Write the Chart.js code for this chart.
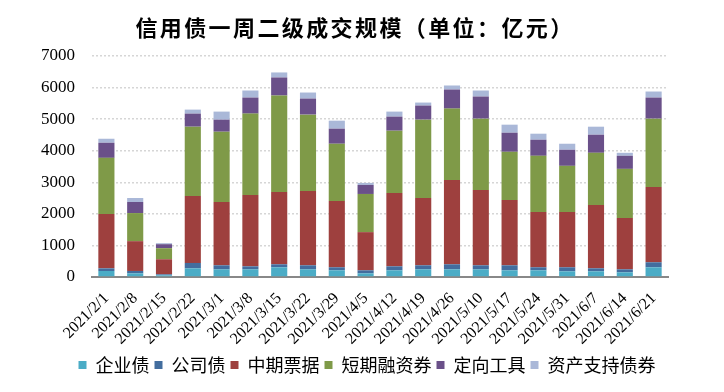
<!DOCTYPE html>
<html>
<head>
<meta charset="utf-8">
<script src="https://cdn.jsdelivr.net/npm/chart.js@4.4.1/dist/chart.umd.min.js"></script>
<style>
  html, body { margin:0; padding:0; background:#fff; }
  #wrap { position:relative; width:724px; height:392px; }
  #title {
    position:absolute; left:-7px; top:12px; width:724px; text-align:center;
    font-family:"Noto Sans CJK SC", sans-serif; font-weight:bold; font-size:22px;
    letter-spacing:2.4px; color:#000; line-height:28px;
  }
</style>
</head>
<body>
<div id="wrap">
  <div id="title">信用债一周二级成交规模（单位：亿元）</div>
  <canvas id="c" width="724" height="392"></canvas>
</div>
<script>
Chart.defaults.font.family = '"Liberation Serif", "Times New Roman", serif';
Chart.defaults.color = '#000';

// weekly values
const weeks = ['2021/2/1','2021/2/8','2021/2/15','2021/2/22','2021/3/1','2021/3/8','2021/3/15','2021/3/22','2021/3/29','2021/4/5',
  '2021/4/12','2021/4/19','2021/4/26','2021/5/10','2021/5/17','2021/5/24','2021/5/31','2021/6/7','2021/6/14','2021/6/21'];

const qiyezhai   = [190,117,53,276,244,244,308,244,212,117,212,244,244,244,212,212,180,180,148,308];
const gongsizhai = [85,74,32,169,127,95,95,127,96,95,127,127,159,127,159,96,128,96,96,159];
const zhongqi    = [1718,944,477,2121,2004,2259,2291,2354,2099,1209,2323,2132,2672,2386,2068,1749,1749,2004,1622,2386];
const duanrong   = [1781,890,350,2195,2227,2577,3054,2418,1814,1209,1972,2481,2259,2259,1527,1782,1464,1654,1559,2163];
const dingxiang  = [477,350,127,414,382,509,572,509,477,286,446,446,604,700,604,509,509,573,414,668];
const abs        = [128,128,32,127,255,223,159,191,254,64,159,95,128,191,255,191,191,254,95,191];

const yTicks = [0,1000,2000,3000,4000,5000,6000,7000];

const series = [
  ['企业债', qiyezhai, '#4BACC6'],
  ['公司债', gongsizhai, '#436D9E'],
  ['中期票据', zhongqi, '#9E403E'],
  ['短期融资券', duanrong, '#7F9A48'],
  ['定向工具', dingxiang, '#6A5089'],
  ['资产支持债券', abs, '#AAB8D8']
];

// nudge the legend right so it sits where the original has it
const legendShift = {
  id:'legendShift',
  afterLayout(chart){
    const lg = chart.legend;
    if (lg) { lg.left += 33; lg.right += 33; }
  }
};

new Chart(document.getElementById('c'), {
  type:'bar',
  data:{
    labels: weeks,
    datasets: series.map(s => ({
      label: s[0], data: s[1], backgroundColor: s[2],
      categoryPercentage: 1, barPercentage: 0.56
    }))
  },
  plugins:[legendShift],
  options:{
    responsive:false,
    animation:false,
    layout:{ padding:{ top:56, right:56, left:0, bottom:8 } },
    plugins:{
      legend:{
        position:'bottom',
        labels:{
          boxWidth:8, boxHeight:8, padding:5, color:'#000',
          font:{ family:'"Noto Sans CJK SC", sans-serif', size:18 }
        }
      },
      tooltip:{ enabled:false }
    },
    scales:{
      x:{
        stacked:true,
        afterFit: sc => { sc.height = 74; },
        grid:{ display:false, drawTicks:false },
        border:{ color:'#888', width:2 },
        ticks:{
          autoSkip:false, maxRotation:45, minRotation:45, padding:12, color:'#000',
          font:{ family:'"Liberation Serif", serif', size:16 }
        }
      },
      y:{
        stacked:true, min:0, max:7000,
        afterBuildTicks: sc => { sc.ticks = yTicks.map(v => ({ value:v })); },
        afterFit: sc => { sc.width = 92; },
        grid:{ color:'#d6d6d6', lineWidth:1.5, drawTicks:false },
        border:{ display:false, dash:[2,2] },
        ticks:{
          padding:17, color:'#000',
          callback: v => String(v),
          font:{ family:'"Liberation Serif", serif', size:17 }
        }
      }
    }
  }
});
</script>
</body>
</html>
